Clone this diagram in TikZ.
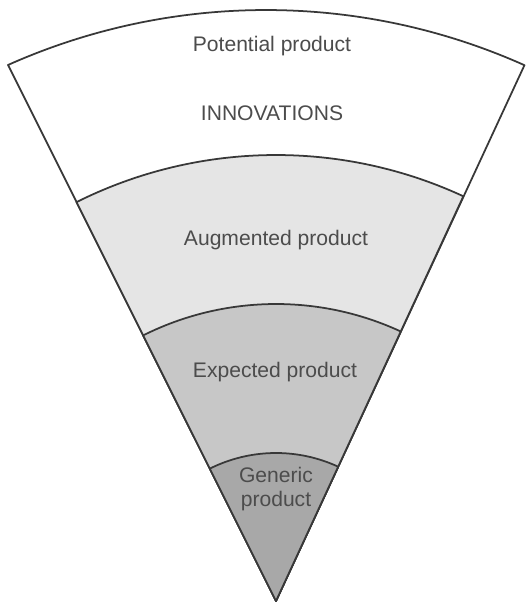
\documentclass[tikz,border=0pt]{standalone}
\usepackage{fontspec}
\setmainfont{Liberation Sans}
\usepackage{tikz}
\usetikzlibrary{positioning}
\definecolor{linegray}{gray}{0.22}
\definecolor{textgray}{gray}{0.3}
\definecolor{bandone}{gray}{0.9}
\definecolor{bandtwo}{gray}{0.78}
\definecolor{bandthree}{gray}{0.66}
\tikzset{band/.style={ % outline of each layer of the fan
			draw=linegray,
			line width=1pt,
			line join=round},
		lbl/.style={
			text=textgray,
			align=center,
			font=\fontsize{12}{14}\selectfont}}

\begin{document}
\begin{tikzpicture}[x=0.02cm,y=0.02cm]
			\useasboundingbox (0,0) rectangle (527,603);
			\coordinate (apex) at (276,2);
			\coordinate (rim) at (266,-40);
			\coordinate (L) at ([shift={(114.05:633)}]rim);
			
			% layers, outermost first
			\draw [band, fill=white] (apex) -- (L) arc[start angle=114.05, end angle=65.9, radius=633] -- cycle;
			\draw [band, fill=bandone] (apex) -- ++(116.57:446) arc[start angle=116.57, end angle=65.16, radius=446] -- cycle;
			\draw [band, fill=bandtwo] (apex) -- ++(116.57:297) arc[start angle=116.57, end angle=65.16, radius=297] -- cycle;
			\draw [band, fill=bandthree] (apex) -- ++(116.57:148) arc[start angle=116.57, end angle=65.16, radius=148] -- cycle;
			
			\node [lbl] (P) at (272,557) {Potential product};
			\node [lbl] (I) at (272,490) {INNOVATIONS};
			\node [lbl] (A) at (276,363) {Augmented product};
			\node [lbl] (E) at (275,231) {Expected product};
			\node [lbl] (G) at (276,114) {Generic\\ product};
		\end{tikzpicture}
\end{document}
